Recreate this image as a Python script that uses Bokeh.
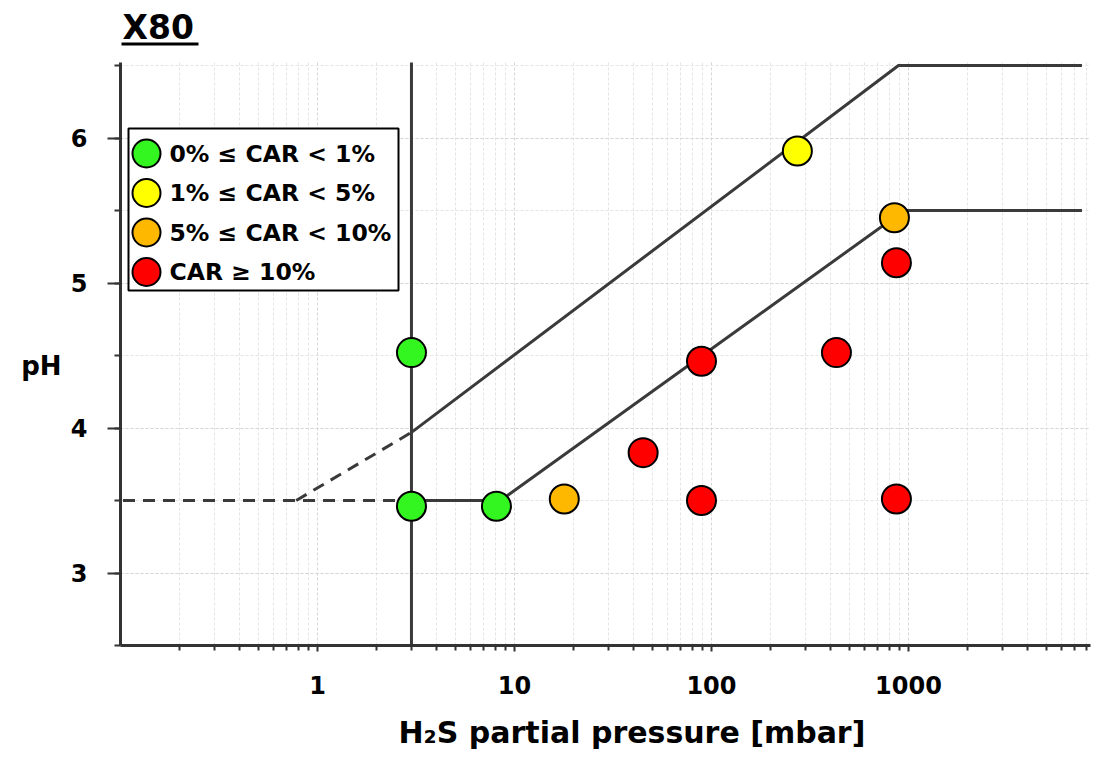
from bokeh.plotting import figure
from bokeh.models import (Range1d, LinearScale, FixedTicker, SingleIntervalTicker,
                          NumeralTickFormatter, LinearAxis, Title, CustomJSTickFormatter)
from bokeh.core.properties import value
from bokeh.embed import file_html
from bokeh.resources import INLINE

# ---------------- data ----------------
green_x = [3, 3, 8.1]
green_y = [4.52, 3.46, 3.46]
yellow_x = [273]
yellow_y = [5.91]
orange_x = [17.9, 849]
orange_y = [3.51, 5.45]
red_x = [45, 89, 89, 431, 869, 869]
red_y = [3.83, 4.46, 3.50, 4.52, 5.14, 3.51]

# boundary lines
vert_x = [3, 3]
vert_y = [2.5, 6.52]
upper_x = [3, 890, 7600]
upper_y = [3.97, 6.5, 6.5]
upper_dash_x = [0.78, 3]
upper_dash_y = [3.5, 3.97]
base_dash_x = [0.103, 3]
base_dash_y = [3.5, 3.5]
lower_x = [3, 8.5, 950, 7600]
lower_y = [3.5, 3.5, 5.5, 5.5]

legend_labels = ["0% \u2264 CAR < 1%", "1% \u2264 CAR < 5%", "5% \u2264 CAR < 10%", "CAR \u2265 10%"]
legend_colors = ["#33f51f", "#ffff00", "#ffb800", "#ff0000"]

x_tick_values = [1, 10, 100, 1000]
x_minor_values = [k * 10.0 ** e for e in range(-1, 4) for k in range(2, 10)]
y_axis_bounds = (2.5, 6.52)

title_text = "X80"
x_label = "H\u2082S partial pressure [mbar]"
y_label = "pH"

# ---------------- layout ----------------
FONT = "DejaVu Sans"
W, H = 1100, 765
BL, BR, BT, BB = 120, 10, 10, 120
FW = W - BL - BR
FH = H - BT - BB
Y_TOP = 2.5 + FH / 145.0   # frame extends above the axis to hold the title

p = figure(width=W, height=H, x_axis_type="log",
           x_range=Range1d(0.1, 8400), y_range=Range1d(2.5, Y_TOP),
           output_backend="svg", toolbar_location=None,
           min_border_left=BL, min_border_right=BR,
           min_border_top=BT, min_border_bottom=BB)
p.outline_line_color = None
p.background_fill_color = "white"
p.border_fill_color = "white"

p.extra_x_ranges = {"px": Range1d(0, FW)}
p.extra_y_ranges = {"py": Range1d(0, FH)}
p.extra_x_scales = {"px": LinearScale()}
p.extra_y_scales = {"py": LinearScale()}

# axes
xa = p.xaxis[0]
xa.ticker = FixedTicker(ticks=x_tick_values, minor_ticks=x_minor_values)
xa.formatter = NumeralTickFormatter(format="0")
ya = p.yaxis[0]
ya.ticker = SingleIntervalTicker(interval=1, num_minor_ticks=2)
ya.bounds = y_axis_bounds
for ax in (xa, ya):
    ax.axis_line_color = "#333333"
    ax.axis_line_width = 3
    ax.major_tick_line_color = "#333333"
    ax.minor_tick_line_color = "#333333"
    ax.major_tick_line_width = 2
    ax.minor_tick_line_width = 2
    ax.major_tick_in = 0
    ax.minor_tick_in = 0
    ax.major_label_text_font = FONT
    ax.major_label_text_font_style = "bold"
    ax.major_label_text_font_size = "24px"
    ax.major_label_text_color = "black"
xa.major_tick_out = 6
xa.minor_tick_out = 5
xa.major_label_standoff = 24
ya.major_tick_out = 13
ya.minor_tick_out = 6
ya.major_label_standoff = 20

# "pH" as a horizontal label on a second, bare left axis
ph_axis = LinearAxis(ticker=FixedTicker(ticks=[4.43]),
                     formatter=CustomJSTickFormatter(code="return '%s'" % y_label),
                     axis_line_color=None, major_tick_line_color=None,
                     minor_tick_line_color=None, major_tick_out=0, minor_tick_out=0,
                     major_label_standoff=6, major_label_text_font=FONT,
                     major_label_text_font_style="bold",
                     major_label_text_font_size="26px",
                     major_label_text_color="black")
p.add_layout(ph_axis, "left")

# x axis title, offset like the reference
p.add_layout(Title(text=x_label, align="left", offset=278, standoff=32,
                   text_font=FONT, text_font_style="bold", text_font_size="30px",
                   text_color="black"), "below")

# grids
for g in (p.xgrid[0], p.ygrid[0]):
    g.grid_line_color = "#d6d6d6"
    g.grid_line_width = 1
    g.grid_line_dash = "3 2"
    g.minor_grid_line_color = "#e4e4e4"
    g.minor_grid_line_width = 1
    g.minor_grid_line_dash = "3 2"

# white band above the axis end (title area)
AX_TOP_PX = (y_axis_bounds[1] - 2.5) * 145.0
p.quad(left=[0], right=[FW], bottom=[AX_TOP_PX + 1], top=[FH],
       fill_color="white", line_color=None, x_range_name="px", y_range_name="py")

LC = "#3a3a3a"
p.line(vert_x, vert_y, line_color=LC, line_width=3)
p.line(upper_x, upper_y, line_color=LC, line_width=3)
p.line(lower_x, lower_y, line_color=LC, line_width=3)
p.line(upper_dash_x, upper_dash_y, line_color=LC, line_width=3, line_dash="12 8")
p.line(base_dash_x, base_dash_y, line_color=LC, line_width=3, line_dash="12 8")

MS = 29
for xs, ys, c in ((green_x, green_y, legend_colors[0]), (yellow_x, yellow_y, legend_colors[1]),
                  (orange_x, orange_y, legend_colors[2]), (red_x, red_y, legend_colors[3])):
    p.scatter(xs, ys, size=MS, fill_color=c, line_color="black", line_width=2)

# legend drawn in frame pixel space
lg_left, lg_right, lg_bottom, lg_top = 8, 278, 355, 517
p.quad(left=[lg_left], right=[lg_right], bottom=[lg_bottom], top=[lg_top],
       fill_color="white", line_color="black", line_width=2,
       x_range_name="px", y_range_name="py")
row_y = [lg_top - 25 - 39.5 * i for i in range(len(legend_labels))]
p.scatter([lg_left + 18] * len(legend_labels), row_y, size=28, fill_color=legend_colors,
          line_color="black", line_width=2, x_range_name="px", y_range_name="py")
p.text([lg_left + 41] * len(legend_labels), row_y, text=legend_labels,
       text_font=value(FONT), text_font_style="bold", text_font_size="23.5px",
       text_baseline="middle", text_align="left", text_color="black",
       x_range_name="px", y_range_name="py")

# underlined title in the band above the axis
p.text([2], [FH - 17], text=[title_text], text_font=value(FONT), text_font_style="bold",
       text_font_size="33px", text_baseline="middle", text_align="left",
       text_color="black", x_range_name="px", y_range_name="py")
p.quad(left=[1], right=[78], bottom=[FH - 35], top=[FH - 32],
       fill_color="black", line_color=None, x_range_name="px", y_range_name="py")

open("out.html", "w").write(file_html(p, INLINE))
